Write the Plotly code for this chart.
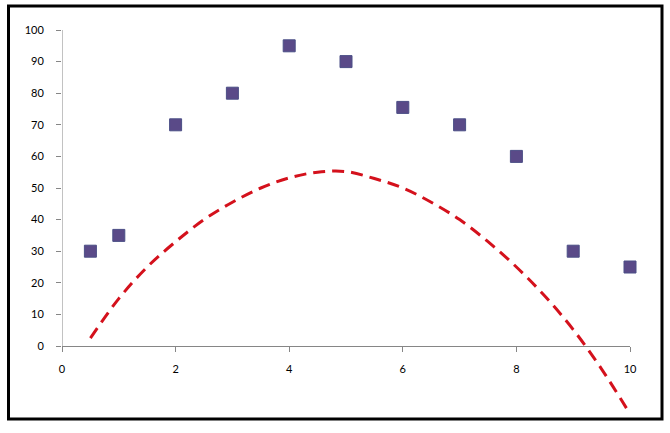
import plotly.graph_objects as go

# Data
pts_x = [0.5, 1, 2, 3, 4, 5, 6, 7, 8, 9, 10]
pts_y = [30, 35, 70, 80, 95, 90, 75.5, 70, 60, 30, 25]

curve_x = [0.5, 1, 1.5, 2, 2.5, 3, 3.5, 4, 4.5, 5, 5.5, 6, 6.5, 7, 7.5, 8, 8.5, 9, 9.5, 10]
curve_y = [2.5, 15, 25, 33, 40, 45.5, 50, 53.2, 55, 55.2, 53, 50, 45.5, 40, 33, 25, 15.8, 5.2, -7.3, -21.5]

x_ticks = [0, 2, 4, 6, 8, 10]
y_ticks = [0, 10, 20, 30, 40, 50, 60, 70, 80, 90, 100]

W, H = 670, 433
ml, mr, mt, mb = 62, 40, 30, 11
plot_h = H - mt - mb
px_per_unit = (346 - 30) / 100.0
y_low = 100 - plot_h / px_per_unit
x0_frac = (H - mb - 346) / plot_h

fig = go.Figure()
fig.add_trace(go.Scatter(
    x=curve_x, y=curve_y, mode="lines", line_shape="spline",
    line=dict(color="#d4111c", width=3, dash="12px,7px"),
    showlegend=False, hoverinfo="skip"))
fig.add_trace(go.Scatter(
    x=pts_x, y=pts_y, mode="markers", cliponaxis=False,
    marker=dict(symbol="square", size=12, color="#5a4a88",
                line=dict(color="#4b4f86", width=1)),
    showlegend=False))

axis_font = dict(family="Lato, Carlito, sans-serif", size=11, color="#000000")
fig.update_layout(
    width=W, height=H,
    margin=dict(l=ml, r=mr, t=mt, b=mb),
    paper_bgcolor="white", plot_bgcolor="white",
    xaxis=dict(range=[0, 10], tickvals=x_ticks, ticktext=[str(v) for v in x_ticks],
               anchor="free", position=x0_frac, showline=True, linecolor="#868686",
               linewidth=1, ticks="outside", ticklen=5, tickcolor="#868686",
               showgrid=False, zeroline=False, tickfont=axis_font,
               ticklabelstandoff=8),
    yaxis=dict(range=[y_low, 100], tickvals=y_ticks, ticktext=[str(v) for v in y_ticks],
               showline=False, ticks="outside", ticklen=5, tickcolor="#868686",
               showgrid=False, zeroline=False, tickfont=axis_font,
               ticklabelstandoff=10),
    shapes=[
        dict(type="line", xref="x", yref="y", x0=0, x1=0, y0=0, y1=100,
             line=dict(color="#868686", width=1), layer="below"),
        dict(type="rect", xref="paper", yref="paper",
             x0=(8.5 - ml) / (W - ml - mr), x1=(662 - ml) / (W - ml - mr),
             y0=(H - mb - 419) / plot_h, y1=(H - mb - 6) / plot_h,
             line=dict(color="black", width=3), fillcolor="rgba(0,0,0,0)"),
    ],
)

fig.write_html("out.html")
